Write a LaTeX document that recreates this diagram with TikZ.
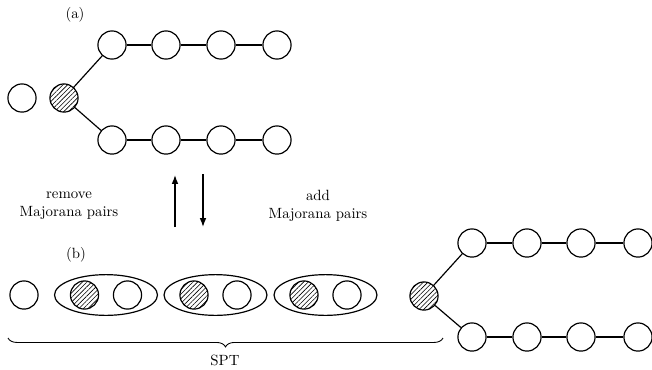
\documentclass[tikz,border=0pt]{standalone}
\usetikzlibrary{shapes.geometric,patterns.meta,arrows.meta,decorations.pathreplacing}
\begin{document}
\begin{tikzpicture}[x=0.675pt,y=-0.675pt,
  site/.style={circle,draw,line width=0.8pt,minimum size=19pt,inner sep=0pt,fill=white},
  hsite/.style={site,pattern={Lines[angle=45,distance=2.2pt,line width=0.4pt]}},
  pairbox/.style={ellipse,draw,line width=0.8pt,minimum width=69.5pt,minimum height=27.5pt,inner sep=0pt},
  bond/.style={line width=0.8pt},
  lbl/.style={font=\normalsize,align=center,inner sep=0pt}]
\useasboundingbox (0,0) rectangle (652,369);
% (a)
\node[lbl] (la) at (75,15) {(a)};
\node[site] (a0) at (22,98) {};
\node[hsite] (ah) at (64,98) {};
\foreach \i/\x in {1/112,2/166,3/221,4/277}{
  \node[site] (au\i) at (\x,45) {};
  \node[site] (ad\i) at (\x,140) {};
}
\draw[bond] (ah) -- (au1);
\draw[bond] (ah) -- (ad1);
\foreach \i/\j in {1/2,2/3,3/4}{
  \draw[bond] (au\i) -- (au\j);
  \draw[bond] (ad\i) -- (ad\j);
}
% arrows and text
\coordinate (up0) at (175,227);
\coordinate (up1) at (175,175);
\coordinate (dn0) at (203,174);
\coordinate (dn1) at (203,227);
\draw[bond,-{Latex[length=6pt,width=4.5pt]}] (up0) -- (up1);
\draw[bond,-{Latex[length=6pt,width=4.5pt]}] (dn0) -- (dn1);
\node[lbl] (trem) at (69,206) {remove\\Majorana pairs};
\node[lbl] (tadd) at (318,206) {add\\Majorana pairs};
% (b)
\node[lbl] (lb) at (76,255) {(b)};
\node[site] (b0) at (24,295) {};
\foreach \i/\c in {1/106,2/215.5,3/325.5}{
  \node[pairbox] (e\i) at (\c,295) {};
  \node[hsite] (bh\i) at (\c-21.5,295) {};
  \node[site] (bp\i) at (\c+21.5,295) {};
}
\node[hsite] (rh) at (424,296) {};
\foreach \i/\x in {1/472,2/527,3/581,4/638}{
  \node[site] (ru\i) at (\x,243) {};
  \node[site] (rd\i) at (\x,337) {};
}
\draw[bond] (rh) -- (ru1);
\draw[bond] (rh) -- (rd1);
\foreach \i/\j in {1/2,2/3,3/4}{
  \draw[bond] (ru\i) -- (ru\j);
  \draw[bond] (rd\i) -- (rd\j);
}
% brace
\coordinate (br0) at (443,338);
\coordinate (br1) at (8,338);
\draw[line width=0.6pt,decorate,decoration={brace,amplitude=6pt}] (br0) -- (br1);
\node[lbl] (spt) at (225,360) {SPT};
\end{tikzpicture}
\end{document}
